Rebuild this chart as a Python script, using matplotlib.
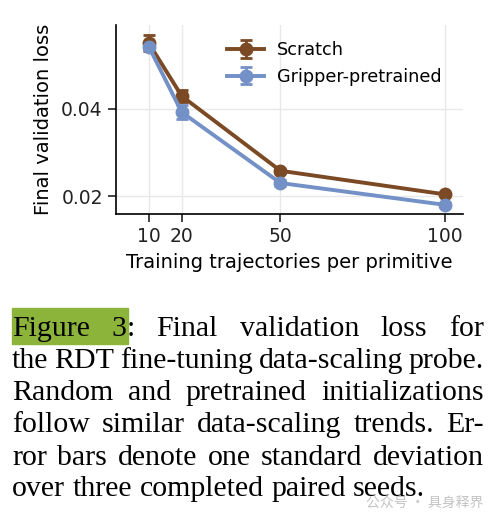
"""Data-scaling probe: final validation loss vs. trajectories, with caption."""

import matplotlib
matplotlib.use("Agg")
import matplotlib.pyplot as plt
from matplotlib.patches import Rectangle

# data
trajectories = [10, 20, 50, 100]
scratch_loss = [0.0550, 0.0429, 0.0258, 0.0204]
scratch_std = [0.0018, 0.0014, 0.0005, 0.0004]
pretrained_loss = [0.0542, 0.0392, 0.0230, 0.0180]
pretrained_std = [0.0008, 0.0016, 0.0006, 0.0004]
series_names = ["Scratch", "Gripper-pretrained"]
y_ticks = [0.02, 0.04]

caption_lines = [
    ["Figure", "3:", "Final", "validation", "loss", "for"],
    ["the", "RDT", "fine-tuning", "data-scaling", "probe."],
    ["Random", "and", "pretrained", "initializations"],
    ["follow", "similar", "data-scaling", "trends.", "Er-"],
    ["ror", "bars", "denote", "one", "standard", "deviation"],
    ["over", "three", "completed", "paired", "seeds."],
]

BROWN = "#7b4a24"
BLUE = "#7391c6"
W, H = 500, 519

plt.rcParams["font.family"] = ["DejaVu Sans"]

fig = plt.figure(figsize=(W / 100, H / 100), dpi=100)
ax = fig.add_axes([116 / W, 1 - 214 / H, 347 / W, 189 / H])

ax.errorbar(trajectories, scratch_loss, yerr=scratch_std, color=BROWN,
            marker="o", markersize=9, linewidth=2.8, elinewidth=2,
            capsize=4.5, capthick=2, label=series_names[0], zorder=3)
ax.errorbar(trajectories, pretrained_loss, yerr=pretrained_std, color=BLUE,
            marker="o", markersize=9, linewidth=2.8, elinewidth=2,
            capsize=4.5, capthick=2, label=series_names[1], zorder=3)

ax.set_xlim(0, 105.5)
ax.set_ylim(0.0159, 0.0592)
ax.set_xticks(trajectories)
ax.set_yticks(y_ticks)
ax.set_yticklabels([f"{v:.2f}" for v in y_ticks])
ax.tick_params(labelsize=13.5, length=6, width=1.2, colors="#222222")
ax.grid(True, color="#e8e8e8", linewidth=1, zorder=0)
for side in ["top", "right"]:
    ax.spines[side].set_visible(False)
for side in ["left", "bottom"]:
    ax.spines[side].set_linewidth(1.2)
ax.set_xlabel("Training trajectories per primitive", fontsize=14, labelpad=5)
ax.set_ylabel("Final validation loss", fontsize=14, labelpad=6)
ax.legend(loc="upper left", bbox_to_anchor=(0.275, 1.0), frameon=False,
          fontsize=12.7, handlelength=2.1, handletextpad=0.7, labelspacing=0.5)

# caption, justified word by word in pixel coords
renderer = fig.canvas.get_renderer()
left_px, right_px = 12, 484
baselines = [336, 368, 400, 432, 465, 496]
cap_font = dict(family="Liberation Serif", fontsize=21.5, color="black")


def px(x, y):
    return x / W, 1 - y / H


def word_width(word):
    t = fig.text(0, 0, word, **cap_font)
    w = t.get_window_extent(renderer).width
    t.remove()
    return w


space_w = word_width("a b") - word_width("ab")
for i, (words, base) in enumerate(zip(caption_lines, baselines)):
    widths = [word_width(w) for w in words]
    last = i == len(caption_lines) - 1
    gap = space_w if last else (right_px - left_px - sum(widths)) / (len(words) - 1)
    x = left_px
    for j, (word, wd) in enumerate(zip(words, widths)):
        if i == 0 and word == "3:":
            w3 = word_width("3")
            fig.text(*px(x, base), "3", va="baseline", **cap_font)
            fig.text(*px(x + w3, base), ":", va="baseline", **cap_font)
            fig.patches.append(Rectangle(px(left_px, 344), (x + w3 + 1 - left_px) / W, 36 / H,
                                         transform=fig.transFigure, color="#8db43a",
                                         zorder=-1, figure=fig))
        else:
            fig.text(*px(x, base), word, va="baseline", **cap_font)
        x += wd + gap

# watermark
fig.text(*px(366, 508), "公众号 · 具身释界", fontsize=10, color="#c4c4c4", va="baseline",
         family=["Noto Sans CJK SC", "DejaVu Sans"])

fig.savefig("out.png", dpi=100)
